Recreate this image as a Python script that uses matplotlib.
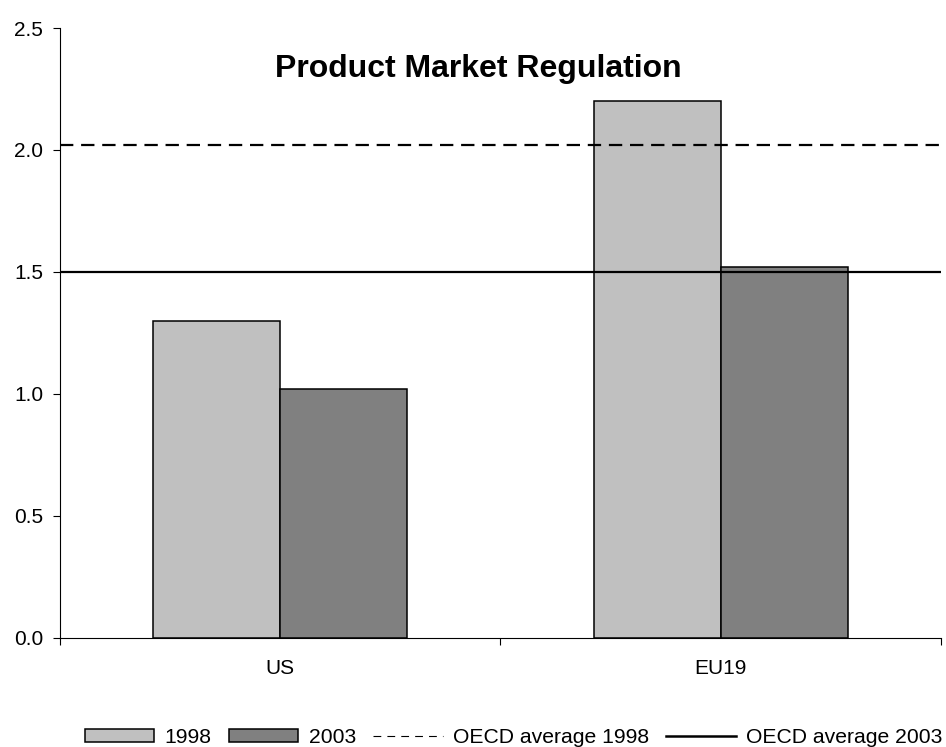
import matplotlib

matplotlib.use("Agg")

import matplotlib.pyplot as plt
from matplotlib.lines import Line2D
from matplotlib.patches import Patch

plt.rcParams["font.family"] = ["Liberation Sans", "DejaVu Sans"]

categories = ["US", "EU19"]
values_1998 = [1.30, 2.20]
values_2003 = [1.02, 1.52]
oecd_avg_1998 = 2.02
oecd_avg_2003 = 1.50
series_labels = ["1998", "2003", "OECD average 1998", "OECD average 2003"]

fig = plt.figure(figsize=(9.46, 7.47), dpi=100)
ax = fig.add_axes([0.0634, 0.146, 0.9313, 0.8165])

width = 0.288
xs = list(range(len(categories)))
ax.bar([x - width / 2 for x in xs], values_1998, width, color="#c0c0c0",
       edgecolor="black", linewidth=1.1, zorder=2)
ax.bar([x + width / 2 for x in xs], values_2003, width, color="#808080",
       edgecolor="black", linewidth=1.1, zorder=2)

ax.axhline(oecd_avg_1998, color="black", linewidth=1.6, dashes=(6, 3.5), zorder=3)
ax.axhline(oecd_avg_2003, color="black", linewidth=1.6, zorder=3)

ax.set_xlim(-0.5, len(categories) - 0.5)
ax.set_ylim(0, 2.5)
ax.set_yticks([0.0, 0.5, 1.0, 1.5, 2.0, 2.5])
ax.set_yticklabels([f"{v:.1f}" for v in ax.get_yticks()])
ax.set_xticks(xs)
ax.set_xticklabels(categories)
ax.set_xticks([x - 0.5 for x in range(len(categories) + 1)], minor=True)
ax.tick_params(axis="x", which="major", length=0, pad=15, labelsize=15)
ax.tick_params(axis="x", which="minor", length=5, direction="out", width=0.8)
ax.tick_params(axis="y", length=5, direction="out", width=0.8, labelsize=15, pad=7)

for side in ["top", "right"]:
    ax.spines[side].set_visible(False)
ax.spines["left"].set_linewidth(0.8)
ax.spines["bottom"].set_linewidth(0.8)

ax.text(0.475, 0.958, "Product Market Regulation", transform=ax.transAxes,
        ha="center", va="top", fontsize=23, fontweight="bold")

handles = [
    Patch(facecolor="#c0c0c0", edgecolor="black", linewidth=1.1),
    Patch(facecolor="#808080", edgecolor="black", linewidth=1.1),
    Line2D([0], [0], color="black", linewidth=0.8, dashes=(7, 5.5)),
    Line2D([0], [0], color="black", linewidth=1.8),
]
fig.legend(handles, series_labels, loc="center", bbox_to_anchor=(0.543, 0.013),
           ncol=4, frameon=False, fontsize=15.2, handlelength=3.3,
           handleheight=0.6, handletextpad=0.5, columnspacing=0.8,
           borderaxespad=0, borderpad=0)

fig.savefig("out.png", dpi=100)
